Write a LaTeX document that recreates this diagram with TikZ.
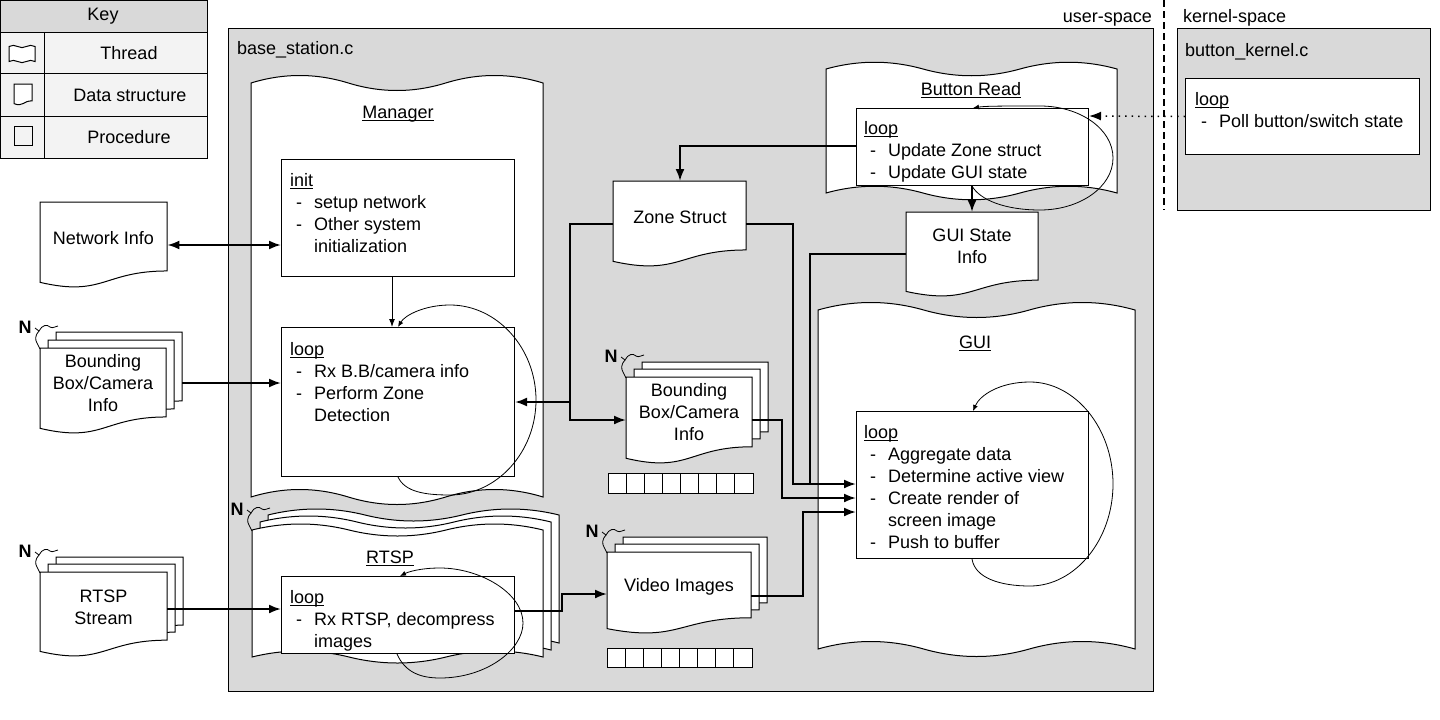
\documentclass[tikz,border=0pt]{standalone}
\usepackage{fontspec}
\setmainfont{Liberation Sans}
\usetikzlibrary{arrows.meta,calc}
\definecolor{bsgray}{RGB}{217,217,217}
\definecolor{keyrow}{RGB}{243,243,243}
\newlength\ulw
\newcommand\ul[1]{\settowidth\ulw{#1}\rlap{\rule[-2.5pt]{\ulw}{1pt}}#1}
\newcommand\li[1]{\makebox[24pt][l]{\hspace*{6pt}-}#1}
\newcommand\lc[1]{\hspace*{24pt}#1}
\tikzset{
  pics/docshape/.style args={#1/#2}{code={
    \draw[fill=white,line width=1pt] (0,0) -- (#1,0) -- (#1,0.802*#2)
      .. controls (0.5*#1,0.802*#2) and (0.5*#1,1.107*#2) .. (0,0.934*#2) -- cycle;}},
  pics/thread/.style args={#1/#2/#3}{code={
    \draw[fill=white,line width=1pt] (0,0)
      .. controls (#1/9,-#3) and (2*#1/9,-#3) .. (#1/3,0)
      .. controls (4*#1/9,#3) and (5*#1/9,#3) .. (2*#1/3,0)
      .. controls (7*#1/9,-#3) and (8*#1/9,-#3) .. (#1,0)
      -- (#1,#2)
      .. controls (8*#1/9,#2-#3) and (7*#1/9,#2-#3) .. (2*#1/3,#2)
      .. controls (5*#1/9,#2+#3) and (4*#1/9,#2+#3) .. (#1/3,#2)
      .. controls (2*#1/9,#2-#3) and (#1/9,#2-#3) .. (0,#2) -- cycle;}},
  pics/nbrace/.style={code={
    \draw[line width=0.8pt] (-5,-20) -- (-1,-17)
       .. controls (2,-23) and (7,-24) .. (10,-21)
       .. controls (13,-19) and (15,-22) .. (18,-22);
    \draw[line width=0.8pt] (-1,-17) .. controls (-5,-13) and (-5,-8) .. (-3,-5)
       .. controls (-1,-2) .. (0,1);
    \node[font=\bfseries\fontsize{18}{22}\selectfont, inner sep=0] (-n) at (-15,-21) {N};}},
}
\begin{document}
\begin{tikzpicture}[x=1pt,y=-1pt,
  every node/.style={font=\fontsize{18}{22}\selectfont},
  proc/.style={draw,fill=white,line width=1pt,inner sep=0,anchor=north west},
  area/.style={draw=none,inner sep=0,anchor=north west},
  txt/.style={anchor=north west,align=left,inner sep=0},
  ctr/.style={align=center,inner sep=0},
  lbl/.style={inner sep=0},
  conn/.style={line width=2pt,-{Latex[length=12pt,width=9pt]}},
  plain/.style={line width=2pt},
  thinarr/.style={line width=1pt,-{Latex[length=8pt,width=6pt]}},
  loopar/.style={line width=0.8pt,-{Latex[length=6pt,width=5pt]}},
]
\useasboundingbox (0,0) rectangle (1440,720);

% ---------------- Key
\fill[bsgray] (0,0) rectangle (207,32);
\fill[keyrow] (0,32) rectangle (207,158);
\draw[line width=1pt] (0.5,0.5) rectangle (207,158);
\draw[line width=1pt] (0,32) -- (207,32) (0,73) -- (207,73) (0,116) -- (207,116) (44,32) -- (44,158);
\node[lbl] (keyT) at (103,16) {Key};
\node[lbl] (keyTh) at (129,53) {Thread};
\node[lbl] (keyDs) at (130,95) {Data structure};
\node[lbl] (keyPr) at (129,137) {Procedure};
\pic at (9,46.5) {thread=26/15/1.5};
\pic at (14,84) {docshape=18/21};
\draw[line width=1pt] (14,126) rectangle (32,145);

% ---------------- spaces
\node[lbl,anchor=base east] (us) at (1152,22.5) {user-space};
\node[lbl,anchor=base west] (ks) at (1183,22.5) {kernel-space};
\draw[line width=1.5pt, dash pattern=on 7pt off 4pt] (1164,0) -- (1164,210);

% ---------------- containers
\node[proc, fill=bsgray, minimum width=925pt, minimum height=663pt] (bs) at (228,28) {};
\node[lbl,anchor=base west] (bsL) at (237,54.5) {base\_station.c};
\node[proc, fill=bsgray, minimum width=253pt, minimum height=182pt] (bk) at (1177,28) {};
\node[lbl,anchor=base west] (bkL) at (1185,56.5) {button\_kernel.c};
\node[proc, minimum width=234pt, minimum height=76pt] (kloop) at (1185,78) {};
\node[txt] (kloopT) at (1195,89.6) {\strut\ul{loop}\\\strut\li{Poll button/switch state}};

% ---------------- threads
\pic at (251,83) {thread=292/414/10};
\node[lbl,anchor=base] (mgrL) at (398,118.5) {\ul{Manager}};
\pic at (826,69) {thread=291/124/9};
\node[lbl,anchor=base] (brL) at (971,95.5) {\ul{Button Read}};
\pic at (818,310) {thread=317/339/10};
\node[lbl,anchor=base] (guiL) at (975,348.5) {\ul{GUI}};
\pic at (268,515) {thread=291/128/8};
\pic at (260,522) {thread=291/128/8};
\pic at (252,530) {thread=291/127/8};
\pic (nbr) at (252,530) {nbrace};
\node[lbl,anchor=base] (rtspL) at (390,563.5) {\ul{RTSP}};

% ---------------- procedures
\node[proc, minimum width=233pt, minimum height=117pt] (init) at (281,159) {};
\node[txt] (initT) at (290,170.6) {\strut\ul{init}\\\strut\li{setup network}\\\strut\li{Other system}\\\strut\lc{initialization}};
\node[proc, minimum width=233pt, minimum height=149pt] (mloop) at (281,327) {};
\node[txt] (mloopT) at (290,339.6) {\strut\ul{loop}\\\strut\li{Rx B.B/camera info}\\\strut\li{Perform Zone}\\\strut\lc{Detection}};
\node[proc, minimum width=233pt, minimum height=77pt] (rloop) at (281,576) {};
\node[txt] (rloopT) at (290,587.6) {\strut\ul{loop}\\\strut\li{Rx RTSP, decompress}\\\strut\lc{images}};
\node[proc, minimum width=232pt, minimum height=77pt] (bloop) at (856,108) {};
\node[txt] (bloopT) at (864,118.6) {\strut\ul{loop}\\\strut\li{Update Zone struct}\\\strut\li{Update GUI state}};
\node[proc, minimum width=232pt, minimum height=147pt] (gloop) at (856,411) {};
\node[txt] (gloopT) at (864,422.6) {\strut\ul{loop}\\\strut\li{Aggregate data}\\\strut\li{Determine active view}\\\strut\li{Create render of}\\\strut\lc{screen image}\\\strut\li{Push to buffer}};

% ---------------- data structures
\pic at (40,202) {docshape=127/86};
\node[area, minimum width=127pt, minimum height=69pt] (net) at (40,202) {};
\node[ctr] (netT) at (103.5,238) {Network Info};

\pic at (56,332) {docshape=126/86};
\pic at (48,340) {docshape=126/86};
\pic at (40,348) {docshape=126/86};
\node[area, minimum width=126pt, minimum height=69pt] (bbl) at (56,332) {};
\pic (nbl) at (40,348) {nbrace};
\node[ctr] (bblT) at (103,383) {Bounding\\Box/Camera\\Info};

\pic at (56,557) {docshape=127/85};
\pic at (48,564) {docshape=127/85};
\pic at (40,572) {docshape=127/85};
\node[area, minimum width=127pt, minimum height=68pt] (rss) at (40,572) {};
\pic (nrs) at (40,572) {nbrace};
\node[ctr] (rssT) at (103.5,607) {RTSP\\Stream};

\pic at (613,181) {docshape=133/86};
\node[area, minimum width=133pt, minimum height=69pt] (zone) at (613,181) {};
\node[ctr] (zoneT) at (680,217) {Zone Struct};

\pic at (906,212) {docshape=132/85};
\node[area, minimum width=132pt, minimum height=68pt] (gsi) at (906,212) {};
\node[ctr] (gsiT) at (972,246.5) {GUI State\\Info};

\pic at (642,362) {docshape=126/87};
\pic at (634,369) {docshape=126/87};
\pic at (626,377) {docshape=126/87};
\node[area, minimum width=126pt, minimum height=70pt] (bbm) at (626,377) {};
\pic (nbm) at (626,377) {nbrace};
\node[ctr] (bbmT) at (689,412) {Bounding\\Box/Camera\\Info};

\pic at (623,537) {docshape=144/82};
\pic at (615,544) {docshape=144/82};
\pic at (607,552) {docshape=144/82};
\node[area, minimum width=144pt, minimum height=66pt] (vid) at (607,552) {};
\pic (nvd) at (607,552) {nbrace};
\node[ctr] (vidT) at (679,587) {Video Images};

% buffers
\foreach \i in {0,...,7} {
  \draw[line width=1pt,fill=white] ({608+\i*18.125},473) rectangle ++(18.125,20);
  \draw[line width=1pt,fill=white] ({607+\i*18.125},648) rectangle ++(18.125,19);
}

% ---------------- connectors
\draw[line width=2pt,{Latex[length=12pt,width=9pt]}-{Latex[length=12pt,width=9pt]}]
  ($(net.north east)+(0,43)$) -- ($(init.north west)+(0,86)$);
\draw[thinarr] ($(init.south west)+(111,0)$) -- ($(mloop.north west)+(111,0)$);
\draw[conn] ($(bbl.north east)+(0,51)$) -- ($(mloop.north west)+(0,56)$);
\draw[conn] ($(rss.north east)+(0,37)$) -- ($(rloop.north west)+(0,33)$);
\draw[conn] ($(rloop.north east)+(0,35)$) -- ++(47,0) |- ($(vid.north west)+(0,42)$);
\draw[conn] ($(bloop.north west)+(0,38)$) -| ($(zone.north west)+(67,0)$);
\draw[conn] ($(bloop.south west)+(116,0)$) -- ($(gsi.north west)+(66,0)$);
\draw[conn] ($(zone.north west)+(0,43)$) -- ++(-43,0) |- ($(mloop.north east)+(0,75)$);
\draw[conn] ($(zone.north west)+(-43,221)$) |- ($(bbm.north west)+(0,43)$);
\draw[conn] ($(zone.north east)+(0,43)$) -- ++(47,0) |- ($(gloop.north west)+(0,73)$);
\draw[plain] ($(gsi.north west)+(0,42)$) -| ($(gloop.north west)+(-46,73)$);
\draw[conn] ($(bbm.north east)+(0,43)$) -- ++(30,0) |- ($(gloop.north west)+(0,87)$);
\draw[conn] ($(vid.north east)+(0,44)$) -- ++(52,0) |- ($(gloop.north west)+(0,101)$);
\draw[line width=1.5pt, dash pattern=on 1.5pt off 5pt, -{Latex[length=12pt,width=9pt]}]
  (kloop.west) -- ($(bloop.north east)+(0,8)$);

% self loops
\draw[loopar] ($(mloop.south west)+(117,0)$) .. controls (405,492) and (425,495) .. (450,495)
  .. controls (497,495) and (536,452) .. (536,400)
  .. controls (536,348) and (497,305) .. (450,305)
  .. controls (425,305) and (405,315) .. ($(mloop.north west)+(117,0)$);
\draw[loopar] ($(rloop.south west)+(116,0)$) .. controls (405,672) and (420,678) .. (440,678)
  .. controls (486,678) and (523,650) .. (523,623)
  .. controls (523,593) and (480,568) .. (440,568)
  .. controls (420,568) and (408,572) .. ($(rloop.north west)+(119,0)$);
\draw[loopar] ($(bloop.south west)+(116,0)$) .. controls (980,200) and (1005,210) .. (1040,210)
  .. controls (1080,210) and (1113,187) .. (1113,158)
  .. controls (1113,129) and (1080,106) .. (1040,106)
  .. controls (1005,106) and (985,106) .. ($(bloop.north west)+(117,0)$);
\draw[loopar] ($(gloop.south west)+(116,0)$) .. controls (975,578) and (1000,586) .. (1030,586)
  .. controls (1075,586) and (1113,540) .. (1113,484)
  .. controls (1113,428) and (1075,382) .. (1030,382)
  .. controls (1000,382) and (980,395) .. ($(gloop.north west)+(117,0)$);
\end{tikzpicture}
\end{document}
